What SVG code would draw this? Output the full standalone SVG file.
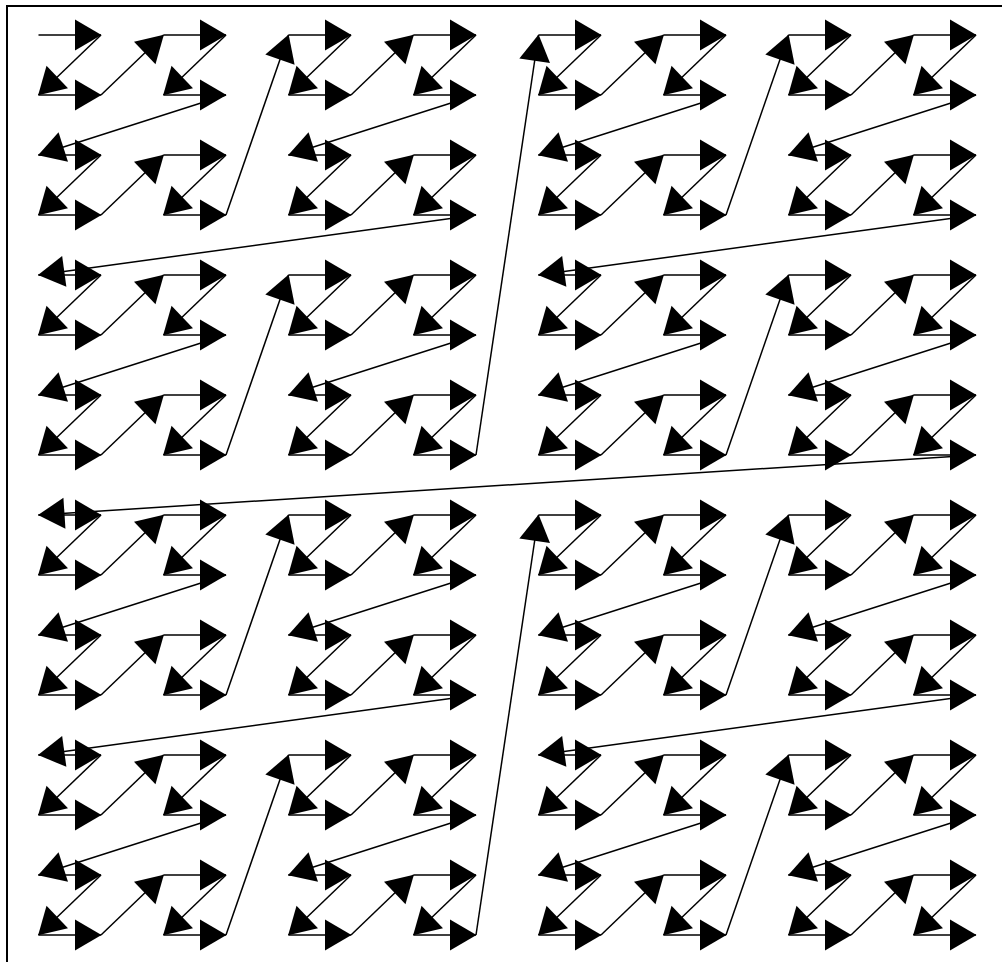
<svg xmlns="http://www.w3.org/2000/svg" xmlns:xlink="http://www.w3.org/1999/xlink" width="1002" height="962" viewBox="0 0 1002 962">
<style>
.c line{stroke:#000;stroke-width:1.5;fill:none;marker-end:url(#ah)}
.frame{stroke:#000;stroke-width:2;fill:none}
</style>
<defs>
<marker id="ah" viewBox="-28 -17 30 34" refX="0" refY="0" markerWidth="30" markerHeight="34" markerUnits="userSpaceOnUse" orient="auto">
<path d="M0.5,0 L-26,-15.5 L-26,15.5 Z" fill="#000"/>
</marker>
<g id="b1" class="c">
<line x1="0" y1="0" x2="62.5" y2="0"/>
<line x1="62.5" y1="0" x2="0" y2="60"/>
<line x1="0" y1="60" x2="62.5" y2="60"/>
</g>
<g id="b2" class="c">
<use href="#b1"/>
<use href="#b1" x="125"/>
<use href="#b1" y="120"/>
<use href="#b1" x="125" y="120"/>
<line x1="62.5" y1="60" x2="125" y2="0"/>
<line x1="187.5" y1="60" x2="0" y2="120"/>
<line x1="62.5" y1="180" x2="125" y2="120"/>
</g>
<g id="b3" class="c">
<use href="#b2"/>
<use href="#b2" x="250"/>
<use href="#b2" y="240"/>
<use href="#b2" x="250" y="240"/>
<line x1="187.5" y1="180" x2="250" y2="0"/>
<line x1="437.5" y1="180" x2="0" y2="240"/>
<line x1="187.5" y1="420" x2="250" y2="240"/>
</g>
</defs>
<rect width="1002" height="962" fill="#fff"/>
<path class="frame" d="M7,962 V6 H1002"/>
<g id="connectors" class="c" transform="translate(38.5,35)">
<use href="#b3"/>
<use href="#b3" x="500"/>
<use href="#b3" y="480"/>
<use href="#b3" x="500" y="480"/>
<line x1="437.5" y1="420" x2="500" y2="0"/>
<line x1="937.5" y1="420" x2="0" y2="480"/>
<line x1="437.5" y1="900" x2="500" y2="480"/>
</g>
</svg>
